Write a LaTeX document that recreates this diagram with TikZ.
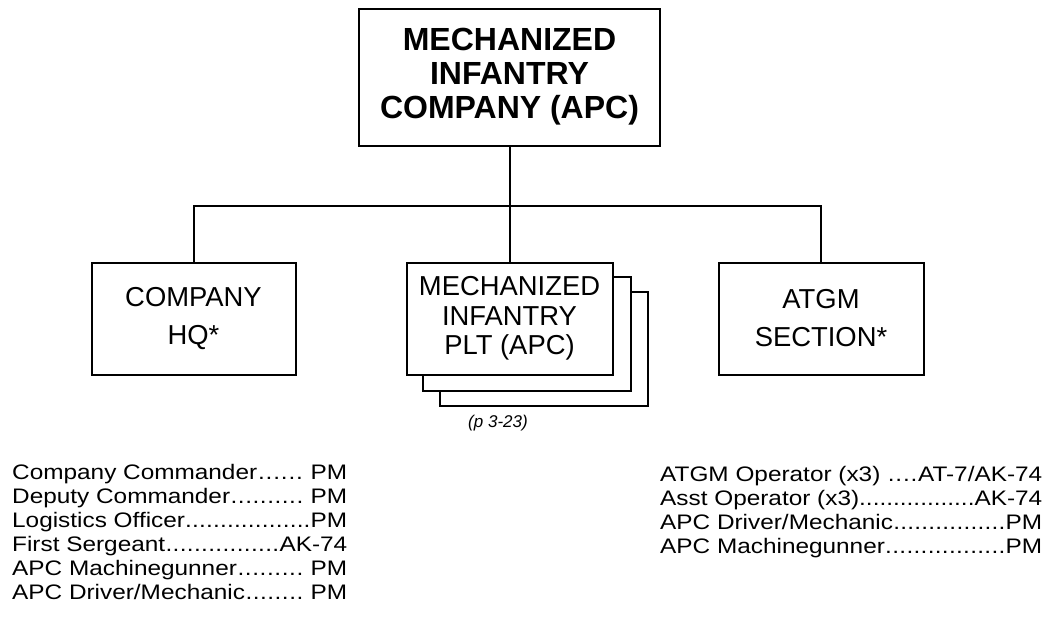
\documentclass[tikz,border=0pt]{standalone}
\usepackage{fontspec}
\setmainfont{Liberation Sans}
\newfontfamily\rosterfont[FakeStretch=1.16]{Liberation Sans}
\usetikzlibrary{positioning,backgrounds,calc}
\newcommand\lead{\xleaders\hbox{.}\hfill}
\tikzset{
  topbox/.style={rectangle,draw,line width=2pt,fill=white,
    minimum width=301pt,minimum height=137pt,align=center,inner sep=0pt,
    font=\fontsize{32}{34}\selectfont\bfseries},
  unitbox/.style={rectangle,draw,line width=2pt,fill=white,
    minimum width=#1,minimum height=112pt,align=center,inner sep=0pt,
    font=\fontsize{27.4}{38}\selectfont},
  unitbox/.default=205pt,
  link/.style={line width=2pt},
  roster/.style={anchor=north west,align=left,inner sep=0pt,
    font=\rosterfont\fontsize{21}{24}\selectfont},
  pageref/.style={font=\fontsize{17}{20}\selectfont\itshape}
}

\begin{document}
\begin{tikzpicture}[x=1pt,y=-1pt]
  \useasboundingbox (0,0) rectangle (1048,616);
  \node[topbox] (coy) at (509.5,77) {MECHANIZED\\INFANTRY\\COMPANY (APC)};
  \node[unitbox=206pt, below=115pt of coy, font=\fontsize{27.4}{29.5}\selectfont] (plt)
    {MECHANIZED\\INFANTRY\\PLT (APC)};
  \node[unitbox=204pt, left=109pt of plt] (hq) {COMPANY\\HQ*};
  \node[unitbox, right=104pt of plt] (atgm) {ATGM\\SECTION*};
  % the two platoons behind
  \begin{scope}[on background layer]
    \draw[link,fill=white] ($(plt.south west)+(34,30)$) rectangle ($(plt.north east)+(34,30)$);
    \draw[link,fill=white] ($(plt.south west)+(17,15)$) rectangle ($(plt.north east)+(17,15)$);
  \end{scope}
  \coordinate (bus) at ($(coy.south)!0.52!(plt.north)$);
  \draw[link] (coy.south) -- (plt.north);
  \draw[link] (hq.north) |- (bus) -| (atgm.north);
  \node[pageref] (pref) at (498,423) {(p 3-23)};
  % weapons lists
  \node[roster] (hqlist) at (12,464) {%
    \makebox[335pt][l]{Company Commander\lead\ PM}\\
    \makebox[335pt][l]{Deputy Commander\lead\ PM}\\
    \makebox[335pt][l]{Logistics Officer\lead PM}\\
    \makebox[335pt][l]{First Sergeant\lead AK-74}\\
    \makebox[335pt][l]{APC Machinegunner\lead\ PM}\\
    \makebox[335pt][l]{APC Driver/Mechanic\lead\ PM}};
  \node[roster] (atgmlist) at (660,466) {%
    \makebox[382pt][l]{ATGM Operator (x3)\ \lead AT-7/AK-74}\\
    \makebox[382pt][l]{Asst Operator (x3)\lead AK-74}\\
    \makebox[382pt][l]{APC Driver/Mechanic\lead PM}\\
    \makebox[382pt][l]{APC Machinegunner\lead PM}};
\end{tikzpicture}
\end{document}
